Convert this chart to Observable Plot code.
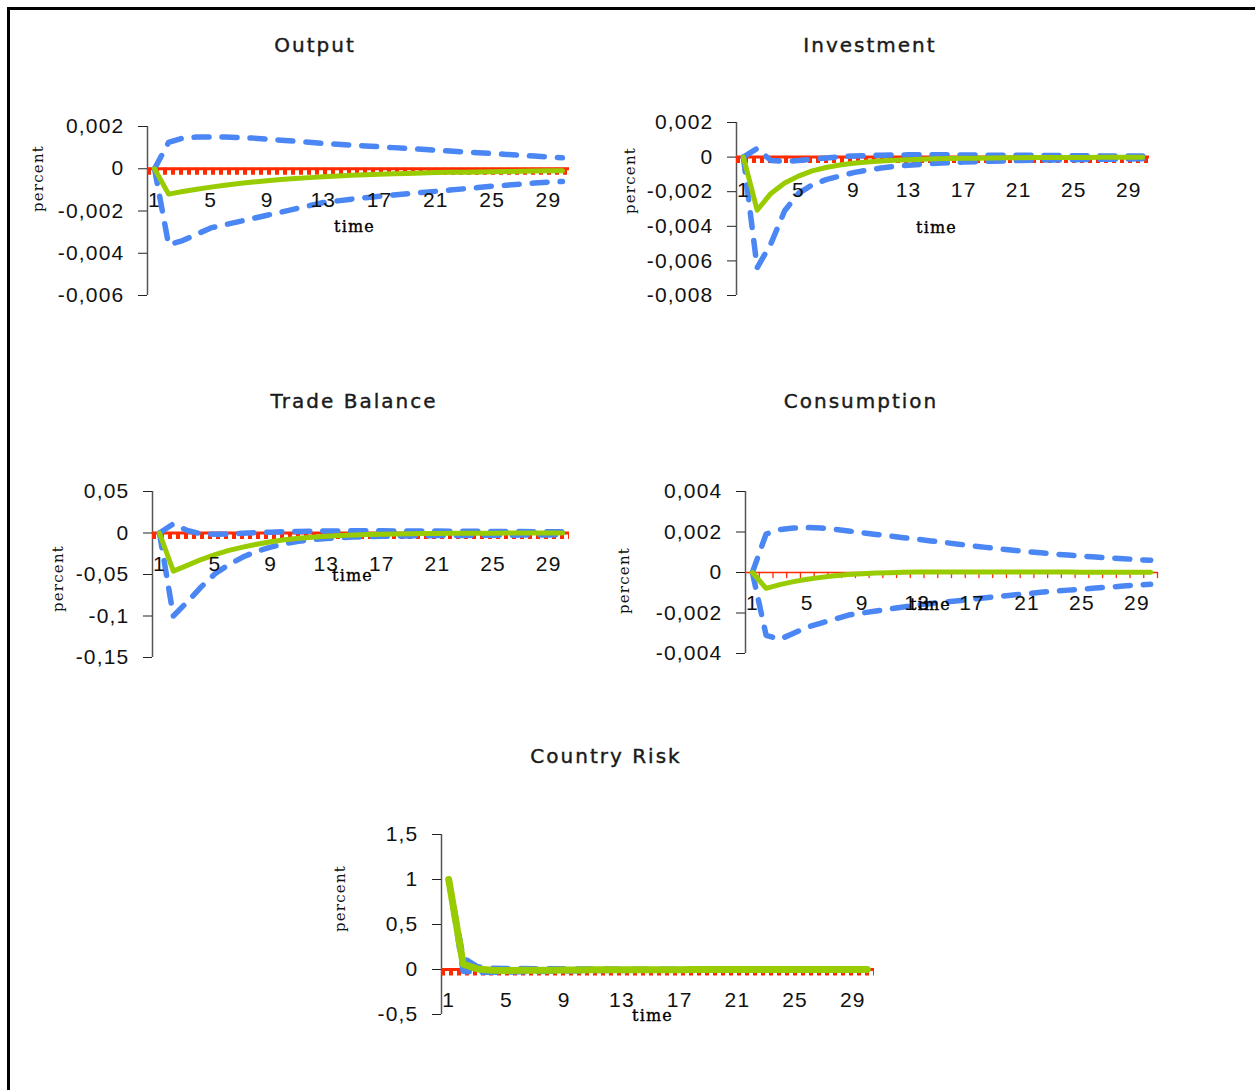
<!DOCTYPE html>
<html><head><meta charset="utf-8">
<script src="https://cdn.jsdelivr.net/npm/d3@7"></script>
<script src="https://cdn.jsdelivr.net/npm/@observablehq/plot@0.6"></script>
<style>
html,body{margin:0;padding:0;background:#fff;width:1255px;height:1090px;overflow:hidden;}
#frame{position:absolute;left:7px;top:7px;width:1300px;height:1200px;border-top:3px solid #000;border-left:3px solid #000;}
.title{position:absolute;transform:translate(-50%,-50%);font-family:"DejaVu Sans";font-size:20px;letter-spacing:2px;color:#1a1a1a;white-space:nowrap;-webkit-text-stroke:0.4px #1a1a1a;}
</style></head><body><div id="frame"></div><div id="root"></div>
<script>
// ---------- data ----------
const periods = [1,2,3,4,5,6,7,8,9,10,11,12,13,14,15,16,17,18,19,20,21,22,23,24,25,26,27,28,29,30];
const xTickLabels = [1,5,9,13,17,21,25,29];

const titles = ["Output","Investment","Trade Balance","Consumption","Country Risk"];

const outputTicks = [0.002, 0, -0.002, -0.004, -0.006];
const outputMedian = [0,-0.00120,-0.00108,-0.00097,-0.00087,-0.00078,-0.00070,-0.00063,-0.00057,-0.00051,-0.00046,-0.00042,-0.00038,-0.00034,-0.00031,-0.00028,-0.00026,-0.00024,-0.00022,-0.00020,-0.00018,-0.00017,-0.00016,-0.00015,-0.00014,-0.00013,-0.00012,-0.00011,-0.00010,-0.00010];
const outputUpper = [0,0.00125,0.00145,0.00150,0.00151,0.00150,0.00148,0.00145,0.00140,0.00135,0.00130,0.00125,0.00120,0.00116,0.00112,0.00108,0.00104,0.00100,0.00096,0.00092,0.00088,0.00084,0.00080,0.00076,0.00072,0.00068,0.00064,0.00060,0.00056,0.00052];
const outputLower = [0,-0.0036,-0.0034,-0.0031,-0.0028,-0.00265,-0.0025,-0.00235,-0.0022,-0.00205,-0.0019,-0.00175,-0.0016,-0.00152,-0.00144,-0.00137,-0.0013,-0.00124,-0.00118,-0.00112,-0.00107,-0.00101,-0.00095,-0.00089,-0.00083,-0.00078,-0.00073,-0.00068,-0.00063,-0.0006];

const investTicks = [0.002, 0, -0.002, -0.004, -0.006, -0.008];
const investMedian = [0,-0.00307,-0.0021,-0.0015,-0.0011,-0.0008,-0.0006,-0.00046,-0.00036,-0.00028,-0.00022,-0.00018,-0.00015,-0.00012,-0.0001,-0.00008,-0.00007,-0.00006,-0.00005,-0.00004,-0.00004,-0.00003,-0.00003,-0.00002,-0.00002,-0.00002,-0.00001,-0.00001,-0.00001,-0.00001];
const investUpper = [0,0.0005,-0.0002,-0.00025,-0.0002,-0.00012,-0.00005,0.00002,0.00006,0.00009,0.00011,0.00012,0.00013,0.00013,0.00013,0.00013,0.00012,0.00012,0.00011,0.00011,0.0001,0.0001,0.00009,0.00009,0.00008,0.00008,0.00007,0.00007,0.00006,0.00006];
const investLower = [0,-0.0064,-0.0050,-0.0031,-0.0021,-0.0016,-0.0013,-0.0011,-0.0009,-0.00075,-0.00063,-0.00054,-0.00047,-0.00041,-0.00036,-0.00032,-0.00029,-0.00026,-0.00024,-0.00022,-0.0002,-0.00018,-0.00017,-0.00016,-0.00015,-0.00014,-0.00013,-0.00012,-0.00011,-0.0001];

const tradeTicks = [0.05, 0, -0.05, -0.1, -0.15];
const tradeMedian = [0,-0.046,-0.039,-0.032,-0.026,-0.021,-0.017,-0.0135,-0.0105,-0.0082,-0.0064,-0.005,-0.0039,-0.003,-0.0023,-0.0018,-0.0014,-0.0011,-0.0008,-0.0006,-0.0005,-0.0004,-0.0003,-0.0002,-0.0002,-0.0001,-0.0001,-0.0001,0,0];
const tradeUpper = [0,0.011,0.003,-0.001,-0.0015,-0.001,-0.0003,0.0004,0.001,0.0015,0.0019,0.0022,0.0024,0.0025,0.0026,0.0026,0.0026,0.0025,0.0025,0.0024,0.0023,0.0022,0.0021,0.002,0.0019,0.0018,0.0017,0.0016,0.0015,0.0014];
const tradeLower = [0,-0.100,-0.083,-0.065,-0.049,-0.038,-0.029,-0.022,-0.017,-0.013,-0.010,-0.008,-0.0066,-0.0056,-0.0049,-0.0044,-0.004,-0.0037,-0.0035,-0.0033,-0.0031,-0.003,-0.0029,-0.0028,-0.0027,-0.0026,-0.0025,-0.0024,-0.0023,-0.0022];

const consTicks = [0.004, 0.002, 0, -0.002, -0.004];
const consMedian = [0,-0.00078,-0.0006,-0.00045,-0.00033,-0.00024,-0.00016,-0.0001,-0.00006,-0.00003,-0.00001,0.00001,0.00002,0.00003,0.00003,0.00003,0.00003,0.00003,0.00003,0.00003,0.00002,0.00002,0.00002,0.00002,0.00001,0.00001,0.00001,0.00001,0.00001,0.00001];
const consUpper = [0,0.0019,0.00212,0.0022,0.00222,0.0022,0.00213,0.00205,0.00196,0.00188,0.0018,0.00172,0.00164,0.00156,0.00148,0.0014,0.00132,0.00124,0.00117,0.0011,0.00103,0.00097,0.00091,0.00086,0.00081,0.00076,0.00072,0.00068,0.00064,0.0006];
const consLower = [0,-0.0031,-0.0033,-0.003,-0.0027,-0.0025,-0.0023,-0.0021,-0.002,-0.0019,-0.0018,-0.0017,-0.0016,-0.00153,-0.00146,-0.00139,-0.00132,-0.00125,-0.00118,-0.00111,-0.00104,-0.00098,-0.00092,-0.00087,-0.00082,-0.00077,-0.00072,-0.00067,-0.00062,-0.00058];

const riskTicks = [1.5, 1, 0.5, 0, -0.5];
const riskMedian = [1,0.06,0.005,-0.008,-0.01,-0.009,-0.008,-0.007,-0.006,-0.005,-0.004,-0.004,-0.003,-0.003,-0.002,-0.002,-0.002,-0.001,-0.001,-0.001,-0.001,-0.001,0,0,0,0,0,0,0,0];
const riskUpper = [1,0.13,0.03,0.015,0.012,0.01,0.009,0.008,0.007,0.006,0.005,0.005,0.004,0.004,0.003,0.003,0.003,0.002,0.002,0.002,0.002,0.002,0.001,0.001,0.001,0.001,0.001,0.001,0.001,0.001];
const riskLower = [1,-0.02,-0.03,-0.03,-0.028,-0.025,-0.022,-0.019,-0.016,-0.014,-0.012,-0.011,-0.01,-0.009,-0.008,-0.007,-0.006,-0.006,-0.005,-0.005,-0.004,-0.004,-0.004,-0.003,-0.003,-0.003,-0.003,-0.002,-0.002,-0.002];

// ---------- styling / layout ----------
const GREEN = "#99cc00", BLUE = "#4a86f4", RED = "#ff2a00";
const fmt = d => String(d).replace(".", ",");
const TICKFONT = "Liberation Sans";

const panels = [
  {title: titles[0], tx: 315, ty: 45, axisX: 147, xEnd: 569, yTop: 126, yBot: 295, ticks: outputTicks,
   median: outputMedian, upper: outputUpper, lower: outputLower, labDy: 32,
   time: [354, 226], percent: [38, 178], green: 5, red: "thick"},
  {title: titles[1], tx: 870, ty: 45, axisX: 736, xEnd: 1149, yTop: 122, yBot: 295, ticks: investTicks,
   median: investMedian, upper: investUpper, lower: investLower, labDy: 33,
   time: [936, 227], percent: [630, 180], green: 5, red: "thick"},
  {title: titles[2], tx: 354, ty: 401, axisX: 152, xEnd: 569, yTop: 491, yBot: 657, ticks: tradeTicks,
   median: tradeMedian, upper: tradeUpper, lower: tradeLower, labDy: 31,
   time: [352, 575], percent: [58, 578], green: 5, red: "thick"},
  {title: titles[3], tx: 861, ty: 401, axisX: 745, xEnd: 1157, yTop: 491, yBot: 653, ticks: consTicks,
   median: consMedian, upper: consUpper, lower: consLower, labDy: 31,
   time: [930, 604], percent: [624, 580], green: 5, red: "thin"},
  {title: titles[4], tx: 606, ty: 756, axisX: 441, xEnd: 874, yTop: 834, yBot: 1014, ticks: riskTicks,
   median: riskMedian, upper: riskUpper, lower: riskLower, labDy: 31,
   time: [652, 1015], percent: [340, 898], green: 7, red: "thick"}
];

const root = document.getElementById("root");
const tickShape = {draw(context, l) { context.moveTo(0, 0); context.lineTo(0, -l); }};
const boundaries = d3.range(1.5, 31, 1);

for (const cfg of panels) {
  const t = document.createElement("div");
  t.className = "title";
  t.textContent = cfg.title;
  t.style.left = cfg.tx + "px";
  t.style.top = cfg.ty + "px";
  root.appendChild(t);

  const mL = 130, mR = 15, mT = 15, mB = 25;
  const width = mL + (cfg.xEnd - cfg.axisX) + mR;
  const height = mT + (cfg.yBot - cfg.yTop) + mB;
  const ymax = d3.max(cfg.ticks), ymin = d3.min(cfg.ticks);
  const rows = periods.map((p, i) => ({t: p, m: cfg.median[i], u: cfg.upper[i], l: cfg.lower[i]}));

  const redMarks = cfg.red === "thick" ? [
    Plot.ruleY([0], {x1: 0.5, x2: 30.5, stroke: RED, strokeWidth: 7, strokeDasharray: "4,4", dy: 2.5}),
    Plot.ruleY([0], {x1: 0.5, x2: 30.5, stroke: RED, strokeWidth: 3})
  ] : [
    Plot.ruleY([0], {x1: 0.5, x2: 30.5, stroke: RED, strokeWidth: 1.5}),
    Plot.vector(boundaries, {x: d => d, y: 0, length: 5, rotate: 180, anchor: "start", shape: tickShape, stroke: RED, strokeWidth: 1.3})
  ];

  const svg = Plot.plot({
    width, height, marginLeft: mL, marginRight: mR, marginTop: mT, marginBottom: mB,
    x: {domain: [0.5, 30.5], axis: null},
    y: {domain: [ymin, ymax], axis: null},
    style: {fontFamily: TICKFONT, fontSize: "21px", color: "#111", background: "transparent", overflow: "visible", letterSpacing: "1.2px"},
    marks: [
      Plot.ruleX([0.5], {y1: ymin, y2: ymax, stroke: "#555", strokeWidth: 1.5}),
      Plot.axisY(cfg.ticks, {tickSize: 9, tickPadding: 14, tickFormat: fmt, label: null, fontSize: 21, stroke: "#222"}),
      ...redMarks,
      Plot.lineY(rows, {x: "t", y: "u", stroke: BLUE, strokeWidth: 5.5, strokeDasharray: "15,13", strokeLinecap: "round"}),
      Plot.lineY(rows, {x: "t", y: "l", stroke: BLUE, strokeWidth: 5.5, strokeDasharray: "15,13", strokeLinecap: "round"}),
      Plot.lineY(rows, {x: "t", y: "m", stroke: GREEN, strokeWidth: cfg.green, strokeLinecap: "round", strokeLinejoin: "round"}),
      Plot.text(xTickLabels, {x: d => d, y: 0, text: d => String(d), dy: cfg.labDy, fontSize: 21, fill: "#111"}),
      Plot.text(["time"], {frameAnchor: "top-left", textAnchor: "middle", lineAnchor: "middle",
        dx: cfg.time[0] - cfg.axisX, dy: cfg.time[1] - cfg.yTop, text: d => d,
        fontFamily: "DejaVu Serif", fontSize: 16, fill: "#000", stroke: "#000", strokeWidth: 0.35, letterSpacing: "0px"}),
      Plot.text(["percent"], {frameAnchor: "top-left", textAnchor: "middle", lineAnchor: "middle",
        dx: cfg.percent[0] - cfg.axisX, dy: cfg.percent[1] - cfg.yTop, text: d => d,
        rotate: -90, fontFamily: "DejaVu Serif", fontSize: 15, fill: "#111", letterSpacing: "0px"})
    ]
  });
  svg.style.position = "absolute";
  svg.style.left = (cfg.axisX - mL) + "px";
  svg.style.top = (cfg.yTop - mT) + "px";
  root.appendChild(svg);
}
</script></body></html>
